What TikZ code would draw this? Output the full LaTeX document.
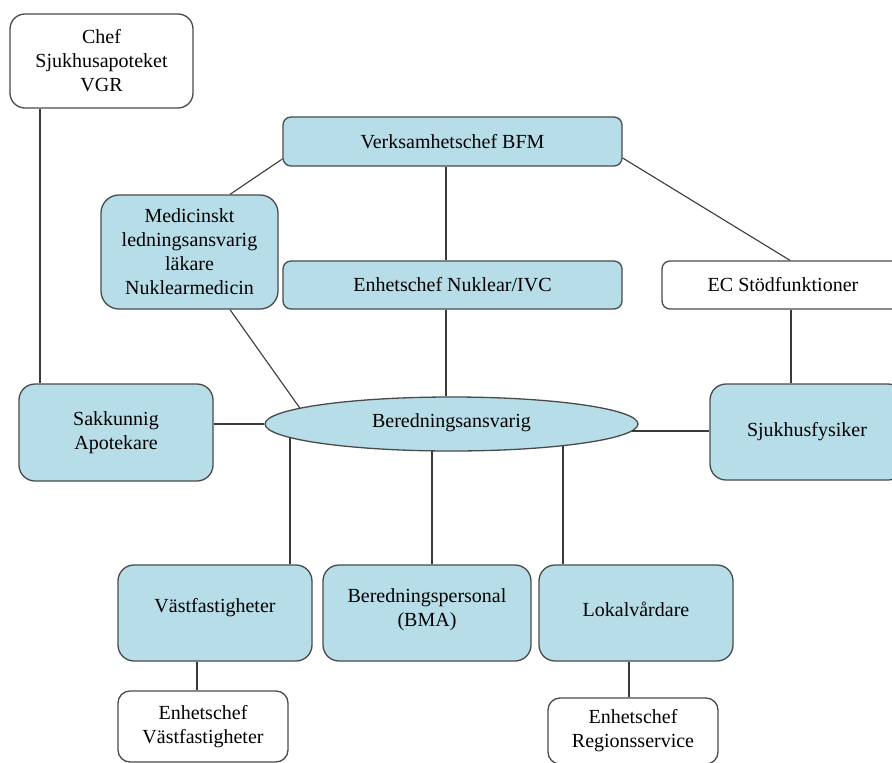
\documentclass[tikz,border=0pt]{standalone}
\usepackage{fontspec}
\setmainfont{Liberation Serif}
\newfontfamily\tnr{Liberation Serif}
\usetikzlibrary{shapes.geometric}
\definecolor{boxblue}{HTML}{B7DDE8}
\definecolor{boxline}{HTML}{4A4A4A}
\definecolor{conline}{HTML}{3A3A3A}
\tikzset{
  basebox/.style={draw=boxline, line width=1.3pt, rectangle, align=center, inner sep=0pt,
    font=\tnr\fontsize{20}{24}\selectfont},
  bluebox/.style={basebox, fill=boxblue},
  whitebox/.style={basebox, fill=white},
  txt/.style={align=center, inner sep=0pt, font=\tnr\fontsize{20}{24}\selectfont},
  conn/.style={draw=conline, line width=1.1pt},
}
\begin{document}
\begin{tikzpicture}[x=1pt, y=-1pt]
\useasboundingbox (0,0) rectangle (892,763);
\clip (0,0) rectangle (892,763);
\fill[white] (0,0) rectangle (892,763);

% boxes
\node[whitebox, minimum width=183pt, minimum height=94pt, rounded corners=15pt] (chef) at (101.5,61) {Chef\\Sjukhusapoteket\\VGR};
\node[bluebox, minimum width=339pt, minimum height=49pt, rounded corners=8pt] (verk) at (452.5,141.5) {Verksamhetschef BFM};
\node[bluebox, minimum width=177pt, minimum height=114pt, rounded corners=18pt] (med) at (189.5,252) {Medicinskt\\ledningsansvarig\\läkare\\Nuklearmedicin};
\node[bluebox, minimum width=339pt, minimum height=48pt, rounded corners=8pt] (enuk) at (452.5,285) {Enhetschef Nuklear/IVC};
\node[whitebox, minimum width=242pt, minimum height=48pt, rounded corners=8pt] (ecs) at (783,285) {EC Stödfunktioner};
\node[bluebox, minimum width=194pt, minimum height=97pt, rounded corners=16pt] (sak) at (116,432.5) {Sakkunnig\\Apotekare};
\node[bluebox, minimum width=194pt, minimum height=96pt, rounded corners=16pt] (sjuk) at (807,432) {Sjukhusfysiker};
\node[draw=boxline, line width=1.3pt, fill=boxblue, ellipse, inner sep=0pt, minimum width=373pt, minimum height=54pt] (ell) at (451.5,424) {};
\node[txt] (ellT) at ([yshift=1pt]ell.center) {Beredningsansvarig};

\node[bluebox, minimum width=194pt, minimum height=96pt, rounded corners=16pt] (vast) at (215,613) {};
\node[txt] (vastT) at ([yshift=5pt]vast.center) {Västfastigheter};
\node[bluebox, minimum width=208pt, minimum height=96pt, rounded corners=16pt] (bere) at (427,613) {};
\node[txt] (bereT) at ([yshift=3pt]bere.center) {Beredningspersonal\\(BMA)};
\node[bluebox, minimum width=194pt, minimum height=96pt, rounded corners=16pt] (lok) at (636,613) {};
\node[txt] (lokT) at ([yshift=4pt]lok.center) {Lokalvårdare};

\node[whitebox, minimum width=170pt, minimum height=71pt, rounded corners=12pt] (ev) at (203,726.5) {Enhetschef\\Västfastigheter};
\node[whitebox, minimum width=170pt, minimum height=66pt, rounded corners=12pt] (er) at (633,731) {Enhetschef\\Regionsservice};

% helper coordinates (points on the ellipse border)
\coordinate (xChef) at (40,0);
\coordinate (xNuk) at (446,0);
\coordinate (eV) at ([shift={(-161.5,13.5)}]ell.center);
\coordinate (eB) at ([shift={(-19.5,26.9)}]ell.center);
\coordinate (eL) at ([shift={(111.5,21.6)}]ell.center);
\coordinate (eR) at ([shift={(180.2,7)}]ell.center);
\coordinate (eM) at ([shift={(-151.5,-15.7)}]ell.center);
\coordinate (xEv) at (197,0);
\coordinate (xEr) at (629,0);
\coordinate (xEc) at (791,0);

% connectors
\draw[conn] (chef.south -| xChef) -- (sak.north -| xChef);
\draw[conn] ([yshift=-17.5pt]verk.west) -- ([xshift=40.5pt]med.north);
\draw[conn] (verk.south -| xNuk) -- (enuk.north -| xNuk);
\draw[conn] ([yshift=-16.5pt]verk.east) -- ([xshift=7pt]ecs.north);
\draw[conn] ([xshift=40.5pt]med.south) -- (eM);
\draw[conn] (enuk.south -| xNuk) -- (xNuk |- ell.north);
\draw[conn] (sak.east |- ell.west) -- (ell.west);
\draw[conn] (eR) -- (sjuk.west |- eR);
\draw[conn] (ecs.south -| xEc) -- (sjuk.north -| xEc);
\draw[conn] (eV) -- (eV |- vast.north);
\draw[conn] (eB) -- (eB |- bere.north);
\draw[conn] (eL) -- (eL |- lok.north);
\draw[conn] (vast.south -| xEv) -- (ev.north -| xEv);
\draw[conn] (lok.south -| xEr) -- (er.north -| xEr);
\end{tikzpicture}
\end{document}
